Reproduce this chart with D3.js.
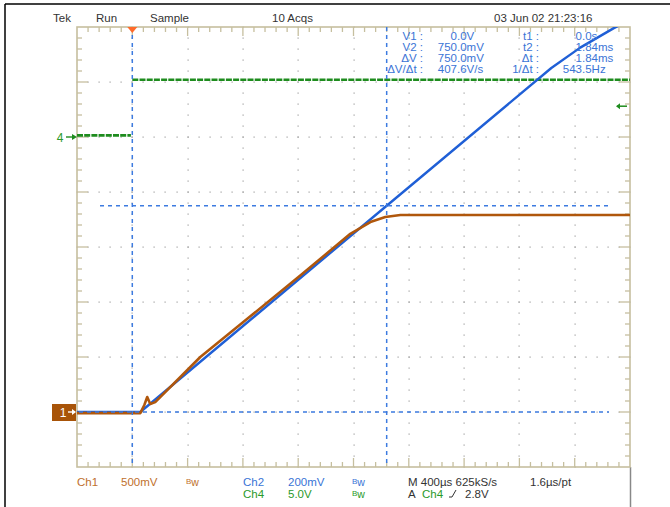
<!DOCTYPE html>
<html><head><meta charset="utf-8">
<script src="https://cdn.jsdelivr.net/npm/d3@7/dist/d3.min.js"></script>
<style>body{margin:0;background:#fff}svg{display:block;font-family:"Liberation Sans",Arial,sans-serif}</style>
</head><body><svg id="c" width="670" height="507"></svg>
<script>
// ---- data (time in microseconds) ----
const ch1Time  = [-400, 58, 87, 108, 130, 166, 492, 854, 1215, 1577, 1722, 1830, 1939, 3600];
const ch1Volts = [-0.01, -0.01, 0.064, 0.136, 0.073, 0.09, 0.50, 0.87, 1.24, 1.62, 1.727, 1.773, 1.791, 1.791];
const ch2Time  = [-400, 58, 1840, 3031, 3240, 3480, 3600];
const ch2mV    = [0, 0, 750, 1251, 1325, 1395, 1426];
const ch4Time  = [-400, -10, null, 0, 3600];
const ch4Volts = [0.15, 0.15, null, 5.2, 5.2];
const cursorTimes = [0, 1840];
const cursorMv = [0, 750];
const triggerLevel = 2.8;
const readLabelsL = ["V1 :", "V2 :", "\u0394V :", "\u0394V/\u0394t :"];
const readValuesL = ["0.0V", "750.0mV", "750.0mV", "407.6V/s"];
const readLabelsR = ["t1 :", "t2 :", "\u0394t :", "1/\u0394t :"];
const readValuesR = ["0.0s", "1.84ms", "1.84ms", "543.5Hz"];

// ---- scales ----
const L = 77, R = 630, T = 27, B = 467;
const x = d3.scaleLinear().domain([-400, 3600]).range([L, R]);
const dv = d3.scaleLinear().domain([-1, 7]).range([B, T]);
const y1 = v => dv(v / 0.5);
const y2 = mv => dv(mv / 200);
const y4 = v => dv(v / 5 + 5);

const BROWN = "#b0570c", BLUE = "#1f5fd6", GREEN = "#1e8c1e", KHAKI = "#c6bf9f";
const BLUETXT = "#3a74d6", GREENTXT = "#2a9a2a", BROWNTXT = "#c0702c", GRAY = "#333";

const svg = d3.select("#c");
svg.append("defs").append("clipPath").attr("id", "pc")
  .append("rect").attr("x", L).attr("y", T).attr("width", R - L).attr("height", B - T);

// outer frame
svg.append("line").attr("x1", 5).attr("x2", 670).attr("y1", 4).attr("y2", 4).attr("stroke", "#000").attr("stroke-width", 1.5);
svg.append("line").attr("x1", 5).attr("x2", 5).attr("y1", 4).attr("y2", 507).attr("stroke", "#000").attr("stroke-width", 1.5);
svg.append("line").attr("x1", R + 0.5).attr("x2", R + 0.5).attr("y1", B).attr("y2", 507).attr("stroke", "#888").attr("stroke-width", 1.5);

// grid dots
const g = svg.append("g");
const xMaj = d3.range(-400, 3601, 400), xMin = d3.range(-400, 3601, 80);
const yMaj = d3.range(-1, 7.01, 1), yMin = d3.range(-1, 7.001, 0.2);
const dots = [];
xMaj.slice(1, -1).forEach(t => yMin.forEach(d => dots.push([x(t), dv(d)])));
yMaj.slice(1, -1).forEach(d => xMin.forEach(t => dots.push([x(t), dv(d)])));
g.selectAll("rect.dot").data(dots).join("rect").attr("class", "dot")
  .attr("x", d => Math.round(d[0]) - 0.5).attr("y", d => Math.round(d[1]) - 0.5)
  .attr("width", 1.2).attr("height", 1.2).attr("fill", "#a0a0a0");

// border + ticks
g.append("rect").attr("x", L).attr("y", T).attr("width", R - L).attr("height", B - T)
  .attr("fill", "none").attr("stroke", KHAKI).attr("stroke-width", 1.6);
const isMajX = t => Math.abs(t / 400 - Math.round(t / 400)) < 1e-6;
const isMajY = d => Math.abs(d - Math.round(d)) < 1e-6;
xMin.slice(1, -1).forEach(t => {
  const len = isMajX(t) ? 9 : 5;
  g.append("line").attr("x1", x(t)).attr("x2", x(t)).attr("y1", T).attr("y2", T + len).attr("stroke", KHAKI).attr("stroke-width", 1.3);
  g.append("line").attr("x1", x(t)).attr("x2", x(t)).attr("y1", B).attr("y2", B - len).attr("stroke", KHAKI).attr("stroke-width", 1.3);
});
yMin.slice(1, -1).forEach(d => {
  const len = isMajY(d) ? 11 : 5;
  g.append("line").attr("x1", L).attr("x2", L + len).attr("y1", dv(d)).attr("y2", dv(d)).attr("stroke", KHAKI).attr("stroke-width", 1.3);
  g.append("line").attr("x1", R).attr("x2", R - len).attr("y1", dv(d)).attr("y2", dv(d)).attr("stroke", KHAKI).attr("stroke-width", 1.3);
});

// traces
const traces = svg.append("g").attr("clip-path", "url(#pc)");
const l4 = d3.line().defined((d, i) => ch4Time[i] !== null).x((d, i) => x(ch4Time[i])).y(d => y4(d));
traces.append("path").attr("d", l4(ch4Volts)).attr("fill", "none").attr("stroke", GREEN).attr("stroke-width", 2.6).attr("stroke-dasharray", "6,1.2");
const l2 = d3.line().x((d, i) => x(ch2Time[i])).y(d => y2(d));
traces.append("path").attr("d", l2(ch2mV)).attr("fill", "none").attr("stroke", BLUE).attr("stroke-width", 2.4).attr("stroke-linejoin", "round");
const l1 = d3.line().x((d, i) => x(ch1Time[i])).y(d => y1(d));
traces.append("path").attr("d", l1(ch1Volts)).attr("fill", "none").attr("stroke", BROWN).attr("stroke-width", 2.6).attr("stroke-linejoin", "round");

// cursors
const cur = svg.append("g").attr("stroke", "#3d7be0").attr("stroke-width", 1.5).attr("stroke-dasharray", "4,4");
cursorTimes.forEach(t => cur.append("line").attr("x1", x(t)).attr("x2", x(t)).attr("y1", T).attr("y2", B));
cur.append("line").attr("x1", L + 2).attr("x2", 609).attr("y1", y2(cursorMv[0])).attr("y2", y2(cursorMv[0]));
cur.append("line").attr("x1", 100).attr("x2", 609).attr("y1", y2(cursorMv[1])).attr("y2", y2(cursorMv[1]));

// trigger position marker
svg.append("path").attr("d", `M${x(0) - 5},${T} L${x(0) + 5},${T} L${x(0)},${T + 6} Z`).attr("fill", "#ff6a2a");

// trigger level arrow (right)
const ty = y4(triggerLevel);
svg.append("line").attr("x1", 617).attr("x2", 627).attr("y1", ty).attr("y2", ty).attr("stroke", GREEN).attr("stroke-width", 1.5);
svg.append("path").attr("d", `M616,${ty} L620,${ty - 3} L620,${ty + 3} Z`).attr("fill", GREEN);

// channel markers (left)
svg.append("rect").attr("x", 52).attr("y", y1(0) - 8).attr("width", 24).attr("height", 17).attr("fill", "#a85408");
svg.append("text").attr("x", 63).attr("y", y1(0) + 4.5).attr("fill", "#fff").attr("font-size", 12).attr("text-anchor", "middle").text("1");
svg.append("line").attr("x1", 68).attr("x2", 75).attr("y1", y1(0)).attr("y2", y1(0)).attr("stroke", "#fff").attr("stroke-width", 1.4);
svg.append("path").attr("d", `M76,${y1(0)} L72,${y1(0) - 3} L72,${y1(0) + 3} Z`).attr("fill", "#fff");
const g4 = y4(0);
svg.append("text").attr("x", 60).attr("y", g4 + 4.5).attr("fill", GREENTXT).attr("font-size", 12).attr("text-anchor", "middle").text("4");
svg.append("line").attr("x1", 66).attr("x2", 75).attr("y1", g4).attr("y2", g4).attr("stroke", GREEN).attr("stroke-width", 1.4);
svg.append("path").attr("d", `M77,${g4} L72,${g4 - 3} L72,${g4 + 3} Z`).attr("fill", GREEN);

// header
const hdr = svg.append("g").attr("font-size", 11.5).attr("fill", GRAY);
[["Tek", 53], ["Run", 96], ["Sample", 150], ["10 Acqs", 272], ["03 Jun 02 21:23:16", 494]]
  .forEach(([s, xx]) => hdr.append("text").attr("x", xx).attr("y", 22).text(s));

// readout with decimal alignment
const rd = svg.append("g").attr("font-size", 11.5).attr("fill", BLUETXT);
const rows = [40, 51, 62, 73];
function decimalText(s, dx, yy) {
  const i = s.indexOf(".");
  rd.append("text").attr("x", dx).attr("y", yy).attr("text-anchor", "end").text(s.slice(0, i));
  rd.append("text").attr("x", dx).attr("y", yy).text(s.slice(i));
}
rows.forEach((yy, i) => {
  rd.append("text").attr("x", 423).attr("y", yy).attr("text-anchor", "end").text(readLabelsL[i]);
  decimalText(readValuesL[i], 457, yy);
  rd.append("text").attr("x", 539).attr("y", yy).attr("text-anchor", "end").text(readLabelsR[i]);
  decimalText(readValuesR[i], 582, yy);
});

// footer
const ft = svg.append("g").attr("font-size", 11.5);
function txt(s, xx, yy, c) { return ft.append("text").attr("x", xx).attr("y", yy).attr("fill", c).text(s); }
function bw(xx, yy, c) {
  const t = ft.append("text").attr("x", xx).attr("y", yy).attr("fill", c);
  t.append("tspan").attr("font-size", 8).attr("dy", -2).text("B");
  t.append("tspan").attr("font-size", 10.5).attr("dy", 2).text("w");
}
txt("Ch1", 77, 486, BROWNTXT); txt("500mV", 121, 486, BROWNTXT); bw(186, 486, BROWNTXT);
txt("Ch2", 243, 486, BLUETXT); txt("200mV", 288, 486, BLUETXT); bw(352, 486, BLUETXT);
txt("Ch4", 243, 498, GREENTXT); txt("5.0V", 288, 498, GREENTXT); bw(352, 498, GREENTXT);
txt("M 400\u00b5s 625kS/s", 408, 486, GRAY); txt("1.6\u00b5s/pt", 530, 486, GRAY);
txt("A", 408, 498, GRAY); txt("Ch4", 422, 498, GREENTXT); txt("2.8V", 465, 498, GRAY);
ft.append("path").attr("d", "M449,497 L452,497 L456,490").attr("fill", "none").attr("stroke", GRAY).attr("stroke-width", 1);
</script></body></html>
